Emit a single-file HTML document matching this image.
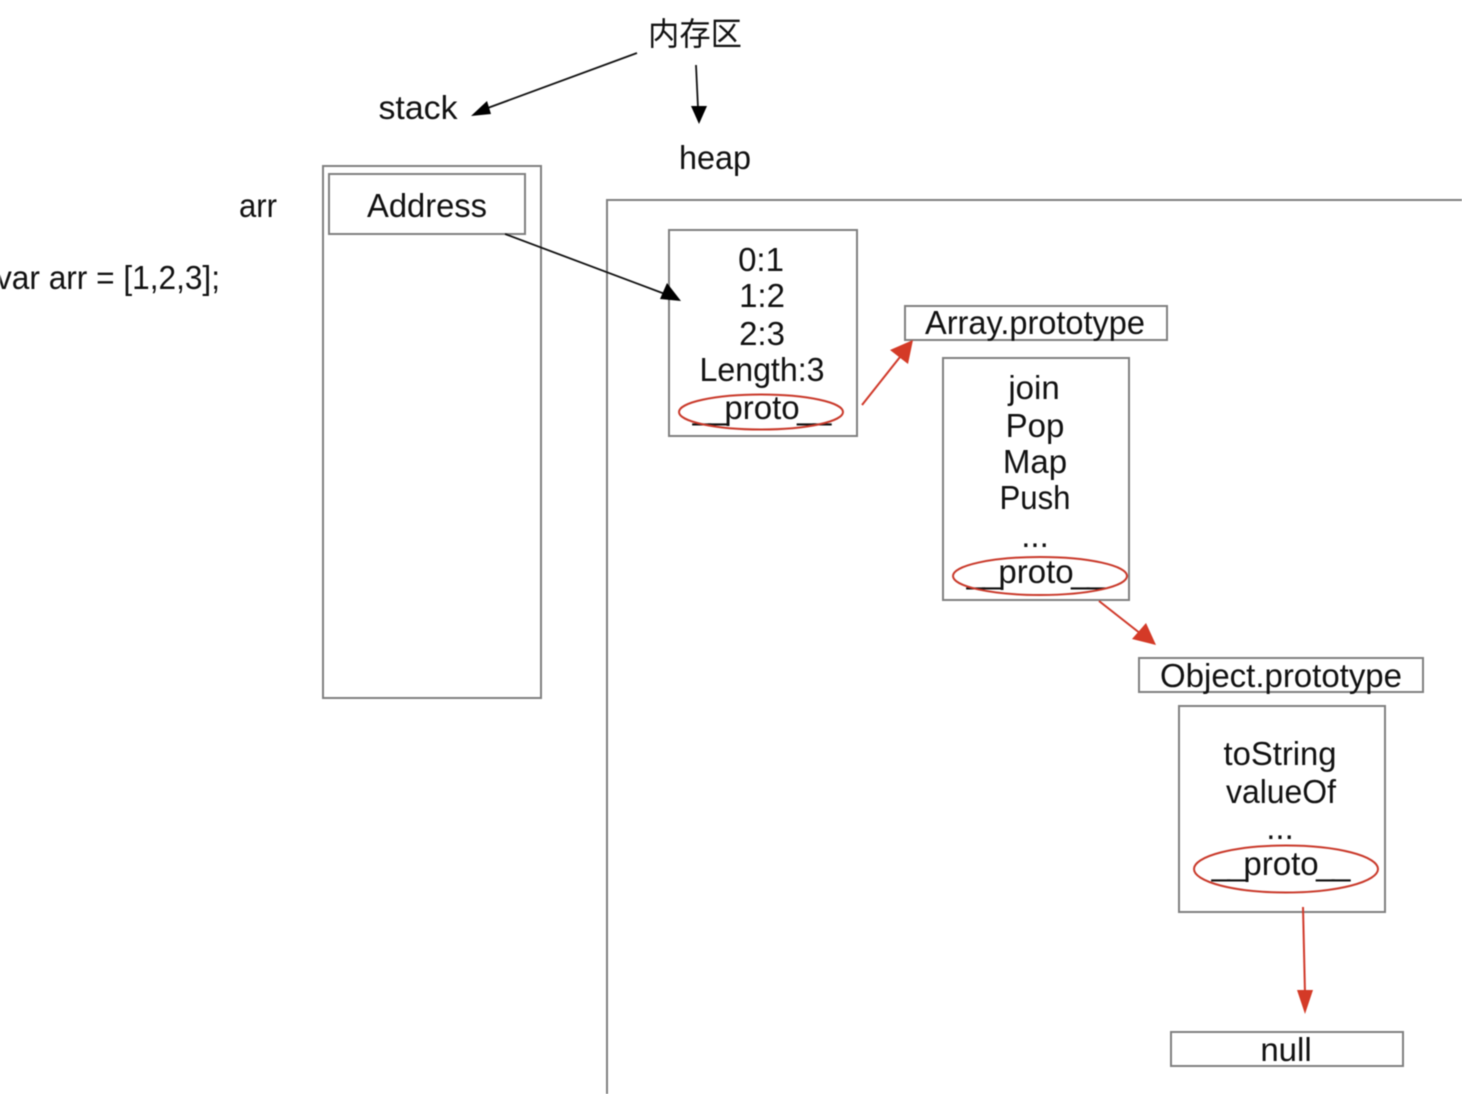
<!DOCTYPE html>
<html><head><meta charset="utf-8"><style>
html,body{margin:0;padding:0;background:#fff;width:1462px;height:1094px;overflow:hidden}
svg{display:block;filter:blur(0.4px)}
text{font-family:"Liberation Sans","Noto Sans CJK SC",sans-serif;font-size:33px;fill:#111;text-anchor:middle}
rect{fill:none;stroke:#808080;stroke-width:2}
.e{fill:none;stroke:#c9392a;stroke-width:2}
.k{stroke:#111;stroke-width:1.8;fill:none}
.r{stroke:#d0392a;stroke-width:2;fill:none}
.kh{fill:#000}.rh{fill:#d43a27}
</style></head><body>
<svg width="1462" height="1094" viewBox="0 0 1462 1094" xmlns="http://www.w3.org/2000/svg">
<rect x="323" y="166" width="218" height="532"/>
<rect x="329" y="174" width="196" height="60"/>
<path d="M1462 200H607V1094" fill="none" stroke="#808080" stroke-width="2"/>
<rect x="669" y="230" width="188" height="206"/>
<rect x="905" y="306" width="262" height="34"/>
<rect x="943" y="358" width="186" height="242"/>
<rect x="1139" y="658" width="284" height="34"/>
<rect x="1179" y="706" width="206" height="206"/>
<rect x="1171" y="1032" width="232" height="34"/>

<text x="695" y="45" textLength="94" lengthAdjust="spacingAndGlyphs" style="font-size:32px">内存区</text>
<text x="418" y="119" textLength="79" lengthAdjust="spacingAndGlyphs">stack</text>
<text x="715" y="169" textLength="72" lengthAdjust="spacingAndGlyphs">heap</text>
<text x="258" y="217" textLength="38" lengthAdjust="spacingAndGlyphs">arr</text>
<text x="427" y="217" textLength="120" lengthAdjust="spacingAndGlyphs">Address</text>
<text x="108" y="289" textLength="224" lengthAdjust="spacingAndGlyphs">var arr = [1,2,3];</text>

<text x="761" y="271">0:1</text>
<text x="762" y="307">1:2</text>
<text x="762" y="345">2:3</text>
<text x="762" y="381" textLength="125" lengthAdjust="spacingAndGlyphs">Length:3</text>
<text x="762" y="419" dx="0 -2.5 -2.5 0 0 0 0 -2.5 -2.5">__proto__</text>

<text x="1035" y="334" textLength="220" lengthAdjust="spacingAndGlyphs">Array.prototype</text>
<text x="1034" y="399">join</text>
<text x="1035" y="437">Pop</text>
<text x="1035" y="473">Map</text>
<text x="1035" y="509" textLength="71" lengthAdjust="spacingAndGlyphs">Push</text>
<text x="1035" y="547">...</text>
<text x="1036" y="583" dx="0 -2.5 -2.5 0 0 0 0 -2.5 -2.5">__proto__</text>

<text x="1281" y="687" textLength="242" lengthAdjust="spacingAndGlyphs">Object.prototype</text>
<text x="1280" y="765" textLength="113" lengthAdjust="spacingAndGlyphs">toString</text>
<text x="1281" y="803" textLength="110" lengthAdjust="spacingAndGlyphs">valueOf</text>
<text x="1280" y="839">...</text>
<text x="1281" y="875" dx="0 -2.5 -2.5 0 0 0 0 -2.5 -2.5">__proto__</text>
<text x="1286" y="1061">null</text>

<ellipse class="e" cx="761" cy="412" rx="82" ry="17.5"/>
<ellipse class="e" cx="1040" cy="576" rx="87" ry="19"/>
<ellipse class="e" cx="1286" cy="869" rx="92" ry="23.5"/>

<path class="k" d="M637 53L485 109"/>
<path class="kh" d="M471 116L487 101L491 114Z"/>
<path class="k" d="M696 65L698 108"/>
<path class="kh" d="M699 124L691 106L707 106Z"/>
<path class="k" d="M505 234L665 294"/>
<path class="kh" d="M681 301L660 299L667 283Z"/>

<path class="r" d="M862 405L900 357"/>
<path class="rh" d="M913 340L908 364L890 350Z"/>
<path class="r" d="M1099 601L1141 634"/>
<path class="rh" d="M1156 645L1132 639L1146 623Z"/>
<path class="r" d="M1303 907L1305 994"/>
<path class="rh" d="M1305 1014L1297 990L1313 990Z"/>
</svg>
</body></html>
